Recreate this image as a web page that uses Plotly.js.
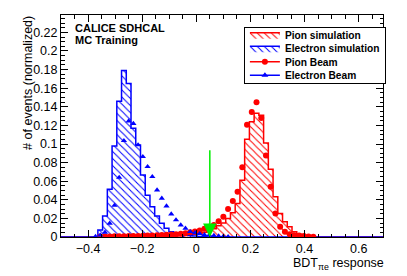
<!DOCTYPE html>
<html>
<head>
<meta charset="utf-8">
<script src="https://cdn.plot.ly/plotly-3.0.1.min.js"></script>
<style>
  html, body { margin: 0; padding: 0; background: #fff; }
  #chart { width: 407px; height: 276px; }
</style>
</head>
<body>
<div id="chart"></div>
<script>
// ---- data ----
const binCenters = [-0.3725, -0.355, -0.3375, -0.32, -0.3025, -0.285, -0.2675, -0.25, -0.2325, -0.215,
  -0.1975, -0.18, -0.1625, -0.145, -0.1275, -0.11, -0.0925, -0.075, -0.0575, -0.04,
  -0.0225, -0.005, 0.0125, 0.03, 0.0475, 0.065, 0.0825, 0.1, 0.1175, 0.135,
  0.1525, 0.17, 0.1875, 0.205, 0.2225, 0.24, 0.2575, 0.275, 0.2925, 0.31,
  0.3275, 0.345, 0.3625, 0.38, 0.3975, 0.415, 0.4325, 0.45];

const electronSim = [0, 0.0075, 0.0226, 0.0513, 0.0978, 0.146, 0.179, 0.165, 0.117, 0.099,
  0.0667, 0.045, 0.0326, 0.0226, 0.0147, 0.0093, 0.0057, 0.004, 0.003, 0.002,
  0.0015, 0.001, 0.0006, 0.0003, 0, 0, 0, 0, 0, 0,
  0, 0, 0, 0, 0, 0, 0, 0, 0, 0,
  0, 0, 0, 0, 0, 0, 0, 0];

const pionSim = [0, 0, 0, 0, 0, 0, 0, 0, 0, 0,
  0, 0, 0, 0, 0.0003, 0.0005, 0.0007, 0.001, 0.0013, 0.0017,
  0.0022, 0.003, 0.004, 0.005, 0.007, 0.009, 0.012, 0.015, 0.02, 0.026,
  0.036, 0.061, 0.105, 0.124, 0.133, 0.131, 0.101, 0.0728, 0.0434, 0.0254,
  0.0165, 0.0111, 0.0057, 0.003, 0.0015, 0.0008, 0.0003, 0];

const pionBeam = [null, 0.0005, 0.0005, 0.0006, 0.0007, 0.0008, 0.0009, 0.001, 0.001, 0.0012,
  0.0013, 0.0015, 0.0017, 0.0019, 0.0021, 0.0024, 0.0027, 0.003, 0.0035, 0.004,
  0.005, 0.006, 0.007, 0.009, 0.011, 0.013, 0.017, 0.0219, 0.030, 0.0387,
  0.0487, 0.075, 0.1208, 0.1344, 0.1448, 0.128, 0.0875, 0.054, 0.0254, 0.011,
  0.0057, 0.003, 0.002, 0.0015, 0.001, 0.0006, 0.0003, null];

const electronBeam = [0.0005, 0.002, 0.005, 0.0147, 0.034, 0.064, 0.1036, 0.1247, 0.122, 0.099,
  0.0864, 0.0756, 0.0648, 0.0505, 0.0416, 0.0333, 0.0247, 0.0183, 0.0129, 0.0093,
  0.0057, 0.0045, 0.0035, 0.0025, 0.002, 0.0015, 0.001, 0.0007, 0.0004, null,
  null, null, null, null, null, null, null, null, null, null,
  null, null, null, null, null, null, null, null];

const seriesNames = ['Pion simulation', 'Electron simulation', 'Pion Beam', 'Electron Beam'];
const cutValue = 0.05;      // BDT cut shown by the green arrow
const cutArrowTop = 0.095;
const xRange = [-0.5, 0.69];
const yRange = [0, 0.2387];

// ---- build step outlines from the bins ----
const binWidth = binCenters[1] - binCenters[0];
function stepLine(values) {
  const xs = [xRange[0]], ys = [0];
  binCenters.forEach((c, i) => { xs.push(c - binWidth / 2); ys.push(values[i]); });
  xs.push(binCenters[binCenters.length - 1] + binWidth / 2); ys.push(0);
  xs.push(xRange[1]); ys.push(0);
  return {x: xs, y: ys};
}

const RED = '#ff0000', BLUE = '#0000ff', GREEN = '#00ee00';
const FONT = 'Liberation Sans, Arial, Helvetica, sans-serif';

const pionStep = stepLine(pionSim);
const elecStep = stepLine(electronSim);

const traces = [
  {
    type: 'scatter', mode: 'lines', name: seriesNames[0],
    x: pionStep.x, y: pionStep.y,
    line: {shape: 'hv', color: RED, width: 1.5},
    fill: 'tozeroy', fillcolor: 'rgba(0,0,0,0)',
    fillpattern: {shape: '\\', fgcolor: RED, bgcolor: 'rgba(0,0,0,0)', size: 5, solidity: 0.2, fillmode: 'replace'}
  },
  {
    type: 'scatter', mode: 'lines', name: seriesNames[1],
    x: elecStep.x, y: elecStep.y,
    line: {shape: 'hv', color: BLUE, width: 1.5},
    fill: 'tozeroy', fillcolor: 'rgba(0,0,0,0)',
    fillpattern: {shape: '\\', fgcolor: BLUE, bgcolor: 'rgba(0,0,0,0)', size: 5, solidity: 0.2, fillmode: 'replace'}
  },
  {
    type: 'scatter', mode: 'markers', name: seriesNames[2], showlegend: false,
    x: binCenters, y: pionBeam,
    marker: {symbol: 'circle', size: 6, color: RED}
  },
  {
    type: 'scatter', mode: 'markers', name: seriesNames[3], showlegend: false,
    x: binCenters, y: electronBeam,
    marker: {symbol: 'triangle-up', size: 5.5, color: BLUE}
  },
  // legend-only entries (line + marker style, as in the original legend)
  {
    type: 'scatter', mode: 'lines+markers', name: seriesNames[2],
    x: [null], y: [null],
    line: {color: RED, width: 1.5}, marker: {symbol: 'circle', size: 6, color: RED}
  },
  {
    type: 'scatter', mode: 'lines+markers', name: seriesNames[3],
    x: [null], y: [null],
    line: {color: BLUE, width: 1.5}, marker: {symbol: 'triangle-up', size: 6, color: BLUE}
  }
];

const axisCommon = {
  showline: true, linecolor: '#000', linewidth: 1, mirror: 'allticks',
  ticks: 'inside', tickcolor: '#000', tickwidth: 1, ticklen: 7,
  showgrid: false, zeroline: false,
  tickfont: {family: FONT, size: 12.5, color: '#000'}
};

const layout = {
  width: 407, height: 276,
  margin: {l: 61, r: 24, t: 15, b: 39, pad: 0},
  paper_bgcolor: '#fff', plot_bgcolor: '#fff',
  showlegend: true,
  legend: {
    x: 0.568, y: 0.945, xanchor: 'left', yanchor: 'top',
    bgcolor: '#fff', bordercolor: '#000', borderwidth: 1,
    font: {family: FONT, size: 10.2, color: '#000', weight: 'bold'},
    itemwidth: 30, tracegroupgap: 0
  },
  xaxis: Object.assign({}, axisCommon, {
    range: xRange, tick0: 0, dtick: 0.2,
    minor: {dtick: 0.05, ticklen: 3.5, tickcolor: '#000', ticks: 'inside', showgrid: false}
  }),
  yaxis: Object.assign({}, axisCommon, {
    range: yRange, tick0: 0, dtick: 0.02,
    minor: {dtick: 0.005, ticklen: 3.5, tickcolor: '#000', ticks: 'inside', showgrid: false}
  }),
  annotations: [
    {
      xref: 'paper', yref: 'paper', x: 1.01, y: -0.078, xanchor: 'right', yanchor: 'top',
      text: 'BDT<sub>πe</sub> response', showarrow: false,
      font: {family: FONT, size: 12.5, color: '#000'}
    },
    {
      xref: 'paper', yref: 'paper', x: -0.1025, y: 1.005, xanchor: 'center', yanchor: 'top',
      text: '# of events (normalized)', textangle: -90, showarrow: false,
      font: {family: FONT, size: 12.5, color: '#000'}
    },
    {
      xref: 'paper', yref: 'paper', x: 0.036, y: 0.94, xanchor: 'left', yanchor: 'middle',
      text: 'CALICE SDHCAL', showarrow: false,
      font: {family: FONT, size: 11, color: '#000', weight: 'bold'}
    },
    {
      xref: 'paper', yref: 'paper', x: 0.036, y: 0.886, xanchor: 'left', yanchor: 'middle',
      text: 'MC Training', showarrow: false,
      font: {family: FONT, size: 11, color: '#000', weight: 'bold'}
    },
    {
      xref: 'x', yref: 'y', x: cutValue, y: 0, axref: 'x', ayref: 'y', ax: cutValue, ay: cutArrowTop,
      text: '', showarrow: true, arrowhead: 2, arrowsize: 1.8, arrowwidth: 1.5,
      arrowcolor: GREEN, standoff: 0, startstandoff: 0
    }
  ]
};

const gd = document.getElementById('chart');
Plotly.newPlot(gd, traces, layout, {displayModeBar: false, staticPlot: true}).then(() => {
  // tighten the legend rows to the compact spacing of the original legend box
  const leg = gd.querySelector('g.legend');
  if (!leg) return;
  const items = leg.querySelectorAll('g.traces');
  const rowGap = 13.5, firstRow = 7.5;
  items.forEach((g, i) => {
    const m = /translate\(\s*([-\d.e]+)[ ,]+([-\d.e]+)\s*\)/.exec(g.getAttribute('transform') || '');
    const x = m ? parseFloat(m[1]) : 0;
    g.setAttribute('transform', 'translate(' + x + ',' + (firstRow + i * rowGap) + ')');
  });
  const h = firstRow + (items.length - 1) * rowGap + 7.5;
  const bg = leg.querySelector('rect.bg');
  if (bg) bg.setAttribute('height', h);
  const clip = document.querySelectorAll('clipPath[id^="legend"] rect');
  clip.forEach(r => r.setAttribute('height', h));
});
</script>
</body>
</html>
